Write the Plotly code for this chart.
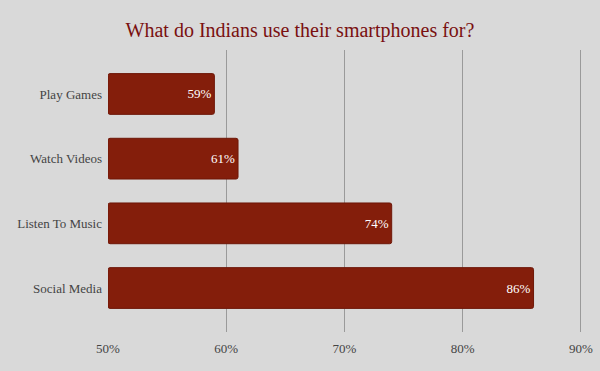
import plotly.graph_objects as go

categories = ["Play Games", "Watch Videos", "Listen To Music", "Social Media"]
values = [59, 61, 74, 86]
labels = ["59%", "61%", "74%", "86%"]
tick_vals = [50, 60, 70, 80, 90]
tick_text = ["50%", "60%", "70%", "80%", "90%"]

serif = "Georgia, 'Liberation Serif', 'DejaVu Serif', serif"

fig = go.Figure(go.Bar(
    y=categories,
    x=[v - 50 for v in values],
    base=50,
    orientation="h",
    width=0.63,
    marker=dict(color="#841e0b", line=dict(color="#6e1708", width=1), cornerradius=2),
    text=labels,
    textposition="inside",
    insidetextanchor="end",
    textfont=dict(family=serif, size=13, color="white"),
    hoverinfo="skip",
))

fig.update_layout(
    width=600, height=371,
    paper_bgcolor="#d9d9d9", plot_bgcolor="#d9d9d9",
    margin=dict(l=108, r=18, t=50, b=39, autoexpand=False),
    title=dict(text="What do Indians use their smartphones for?", x=0.5, xanchor="center",
               y=0.918, yanchor="middle",
               font=dict(family=serif, size=20, color="#7a1010")),
    showlegend=False,
    xaxis=dict(range=[50, 90.1], tickvals=tick_vals, ticktext=tick_text, automargin=False,
               showgrid=True, gridcolor="#9a9a9a", gridwidth=1, zeroline=False,
               showline=False, ticks="outside", ticklen=4, tickcolor="rgba(0,0,0,0)",
               tickfont=dict(family=serif, size=13, color="#444444")),
    yaxis=dict(categoryorder="array", categoryarray=categories, automargin=False,
               range=[3.68, -0.68], showgrid=False, zeroline=False,
               ticks="", ticklabelstandoff=5,
               tickfont=dict(family=serif, size=13, color="#444444")),
)

fig.write_html("out.html", config={"displayModeBar": False},
               post_script="document.body.style.margin='0';document.body.style.background='#d9d9d9';")
